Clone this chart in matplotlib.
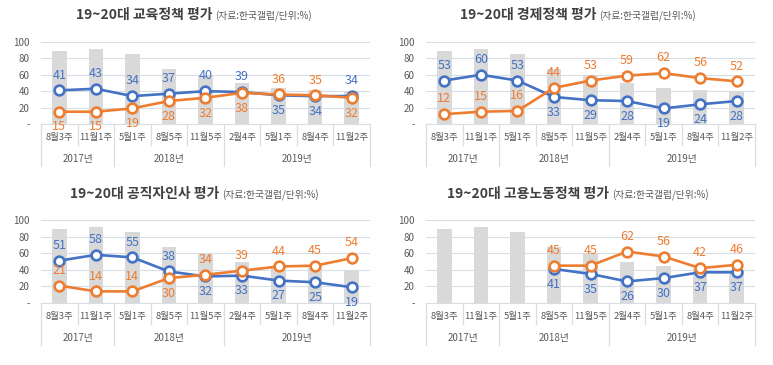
import matplotlib.pyplot as plt
import numpy as np

plt.rcParams['font.family'] = ['Noto Sans CJK KR', 'DejaVu Sans']

weeks = ['8월3주', '11월1주', '5월1주', '8월5주', '11월5주', '2월4주', '5월1주', '8월4주', '11월2주']
years = ['2017년', '2018년', '2019년']
year_span = [(0, 2), (2, 5), (5, 9)]
bars = [89, 91, 85, 67, 60, 50, 44, 42, 40]

titles = ['19~20대 교육정책 평가', '19~20대 경제정책 평가',
          '19~20대 공직자인사 평가', '19~20대 고용노동정책 평가']
subtitle = '(자료:한국갤럽/단위:%)'

blue_vals = [
    [41, 43, 34, 37, 40, 39, 35, 34, 34],
    [53, 60, 53, 33, 29, 28, 19, 24, 28],
    [51, 58, 55, 38, 32, 33, 27, 25, 19],
    [None, None, None, 41, 35, 26, 30, 37, 37],
]
orange_vals = [
    [15, 15, 19, 28, 32, 38, 36, 35, 32],
    [12, 15, 16, 44, 53, 59, 62, 56, 52],
    [21, 14, 14, 30, 34, 39, 44, 45, 54],
    [None, None, None, 45, 45, 62, 56, 42, 46],
]

# label side: 1 = above the point, -1 = below
blue_side = [
    [1, 1, 1, 1, 1, 1, -1, -1, 1],
    [1, 1, 1, -1, -1, -1, -1, -1, -1],
    [1, 1, 1, 1, -1, -1, -1, -1, -1],
    [-1] * 9,
]
orange_side = [
    [-1, -1, -1, -1, -1, -1, 1, 1, -1],
    [1] * 9,
    [1, 1, 1, -1, 1, 1, 1, 1, 1],
    [1] * 9,
]

BLUE = '#4472C4'
ORANGE = '#ED7D31'
BAR = '#D9D9D9'
LINEC = '#D9DEE6'
TXT = '#595959'

W, H = 773, 365
fig = plt.figure(figsize=(W / 100, H / 100), dpi=100)

# axes boxes in pixels: left, top(100), right, bottom(0)
boxes = [(41, 42, 370, 124), (426, 42, 755, 124),
         (41, 220, 370, 303), (426, 220, 755, 303)]
title_y = [15, 15, 194, 194]
centers = [194, 578, 194, 578]

x = np.arange(len(weeks))
title_texts = []
for k in range(4):
    l, t, r, b = boxes[k]
    ax = fig.add_axes([l / W, 1 - b / H, (r - l) / W, (b - t) / H])
    ax.bar(x, bars, width=0.4, color=BAR, zorder=1)
    bv = np.array([np.nan if v is None else v for v in blue_vals[k]], float)
    ov = np.array([np.nan if v is None else v for v in orange_vals[k]], float)
    for vals, c in [(bv, BLUE), (ov, ORANGE)]:
        ax.plot(x, vals, color=c, lw=1.9, marker='o', ms=7, mfc='white',
                mec=c, mew=1.9, zorder=3)
    for vals, sides, c in [(bv, blue_side[k], BLUE), (ov, orange_side[k], ORANGE)]:
        for i in range(len(weeks)):
            if np.isnan(vals[i]):
                continue
            ax.annotate(f'{int(vals[i])}', (x[i], vals[i]), xytext=(0, 11 * sides[i]),
                        textcoords='offset points', ha='center', va='center',
                        color=c, fontsize=9, zorder=4, annotation_clip=False)
    ax.set_xlim(-0.5, len(weeks) - 0.5)
    ax.set_ylim(0, 100)
    ax.set_yticks([0, 20, 40, 60, 80, 100])
    ax.set_yticklabels(['-', '20', '40', '60', '80', '100'])
    ax.tick_params(axis='y', length=0, labelsize=7, labelcolor=TXT, pad=8)
    ax.set_xticks([])
    ax.grid(axis='y', color=LINEC, lw=0.8, zorder=0)
    ax.set_axisbelow(True)
    for s in ['top', 'left', 'right']:
        ax.spines[s].set_visible(False)
    ax.spines['bottom'].set_color(LINEC)

    # category table below the axis
    trans = ax.get_xaxis_transform()
    h = b - t
    cat_bot = -21 / h
    year_bot = -42 / h
    for i in range(len(weeks)):
        ax.text(x[i], -14 / h, weeks[i], transform=trans, ha='center', va='center',
                fontsize=6.8, color=TXT)
    edges = {0, 2, 5, 9}
    for j in range(len(weeks) + 1):
        xe = j - 0.5
        yb = year_bot if j in edges else cat_bot
        ax.plot([xe, xe], [0, yb], transform=trans, color=LINEC, lw=0.9,
                clip_on=False)
    for (a, z), yl in zip(year_span, years):
        ax.text((a + z - 1) / 2, -35 / h, yl, transform=trans, ha='center',
                va='center', fontsize=7, color=TXT)

    t1 = fig.text(0, 1 - title_y[k] / H, titles[k], fontsize=10, fontweight='bold',
                  color='#404040', ha='left', va='center')
    t2 = fig.text(0, 1 - (title_y[k] + 1) / H, subtitle, fontsize=7, color=TXT,
                  ha='left', va='center')
    title_texts.append((t1, t2, centers[k]))

renderer = fig.canvas.get_renderer()
for t1, t2, c in title_texts:
    w1 = t1.get_window_extent(renderer).width
    w2 = t2.get_window_extent(renderer).width
    start = c - (w1 + w2 + 3) / 2
    t1.set_x(start / W)
    t2.set_x((start + w1 + 3) / W)

fig.savefig('out.png', dpi=100)
